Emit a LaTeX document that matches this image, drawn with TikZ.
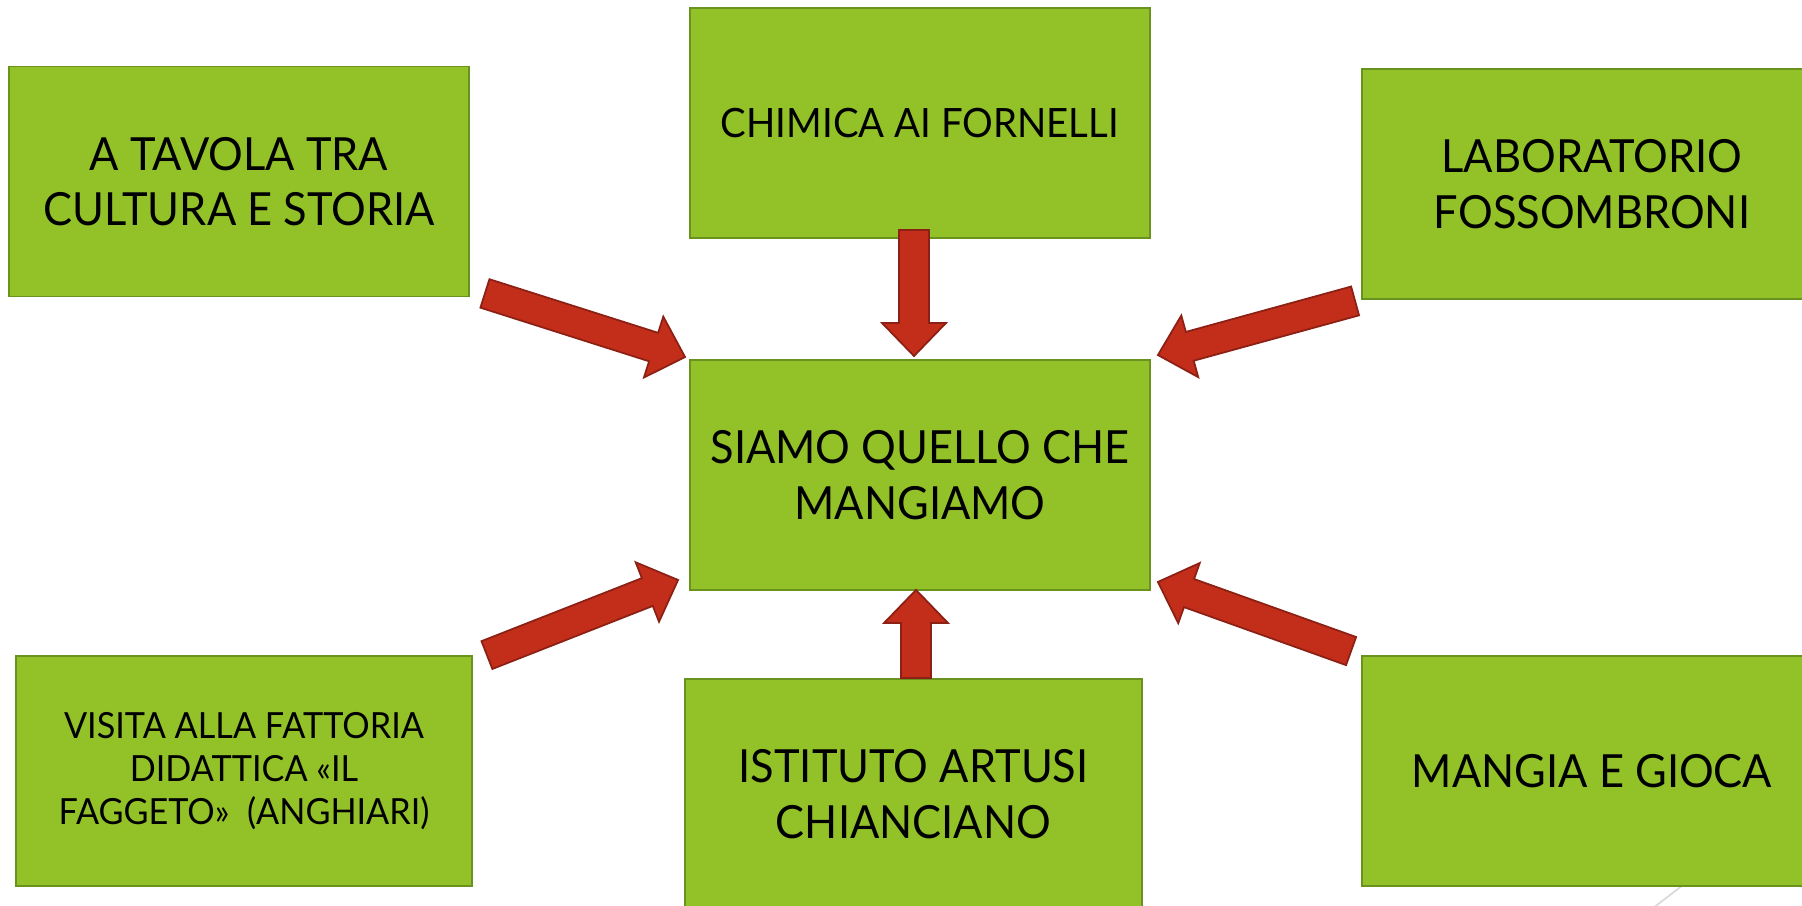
\documentclass[tikz,border=0pt]{standalone}
\usepackage{fontspec}
\setmainfont{Lato}[FakeStretch=0.95]
\usetikzlibrary{calc}
\definecolor{boxgreen}{RGB}{146,194,40}
\definecolor{boxline}{RGB}{106,146,30}
\definecolor{arrowred}{RGB}{194,46,26}
\definecolor{arrowline}{RGB}{140,32,20}
% sizes of the block arrows
\newcommand{\shafthalf}{8.5pt}
\newcommand{\headhalf}{18.2pt}
\newcommand{\headlen}{18.8pt}
\newcommand{\blockarrow}[2]{%
\coordinate (hb) at ($(#2)!\headlen!(#1)$);
\filldraw[redarrow] ($(#1)!\shafthalf!90:(#2)$) -- ($(hb)!\shafthalf!90:(#2)$) -- ($(hb)!\headhalf!90:(#2)$) -- (#2) -- ($(hb)!\headhalf!-90:(#2)$) -- ($(hb)!\shafthalf!-90:(#2)$) -- ($(#1)!\shafthalf!-90:(#2)$) -- cycle;}
\begin{document}
\begin{tikzpicture}[x=0.02cm,y=-0.02cm,
greenbox/.style={fill=boxgreen,draw=boxline,line width=1.1pt,shape=rectangle,minimum width=9.2cm,minimum height=4.6cm,align=center,inner sep=0pt},
bigtext/.style={font=\fontsize{26}{31.5}\selectfont},
midtext/.style={font=\fontsize{23}{27.5}\selectfont},
smalltext/.style={font=\fontsize{20.5}{24.5}\selectfont},
redarrow/.style={fill=arrowred,draw=arrowline,line width=1pt,line join=miter}]
\useasboundingbox (0,0) rectangle (1802,906);
\clip (0,0) rectangle (1802,906);
\draw[black!15,line width=1pt] (1700,872) -- (1640,918);
\node[greenbox,bigtext](tavola) at (239,181.5){A TAVOLA TRA\\CULTURA E STORIA};
\node[greenbox,midtext](chimica) at (920,123){CHIMICA AI FORNELLI};
\node[greenbox,bigtext](lab) at (1592,184){LABORATORIO\\FOSSOMBRONI};
\node[greenbox,bigtext](centre) at (920,475){SIAMO QUELLO CHE\\MANGIAMO};
\node[greenbox,smalltext,minimum width=9.12cm](visita) at (244,771){VISITA ALLA FATTORIA\\DIDATTICA «IL\\FAGGETO»~~(ANGHIARI)};
\node[greenbox,bigtext,minimum width=9.14cm](istituto) at (913.5,794){ISTITUTO ARTUSI\\CHIANCIANO};
\node[greenbox,bigtext](mangia) at (1592,771){MANGIA E GIOCA};
% arrows into the centre
\coordinate (t1) at ($(tavola.south east)+(15,-4)$);
\coordinate (p1) at ($(centre.north west)+(-4,-2)$);
\blockarrow{t1}{p1}
\coordinate (t2) at ($(chimica.south)+(-6,-9)$);
\coordinate (p2) at ($(centre.north)+(-6,-3)$);
\blockarrow{t2}{p2}
\coordinate (t3) at ($(lab.south west)+(-6,1)$);
\coordinate (p3) at ($(centre.north east)+(7,-4)$);
\blockarrow{t3}{p3}
\coordinate (t4) at ($(visita.north east)+(14,0)$);
\coordinate (p4) at ($(centre.south west)+(-11,-11)$);
\blockarrow{t4}{p4}
\coordinate (t5) at ($(istituto.north)+(2.5,0)$);
\coordinate (p5) at ($(centre.south)+(-4,-1)$);
\blockarrow{t5}{p5}
\coordinate (t6) at ($(mangia.north west)+(-10,-4)$);
\coordinate (p6) at ($(centre.south east)+(7,-9)$);
\blockarrow{t6}{p6}
\end{tikzpicture}
\end{document}
